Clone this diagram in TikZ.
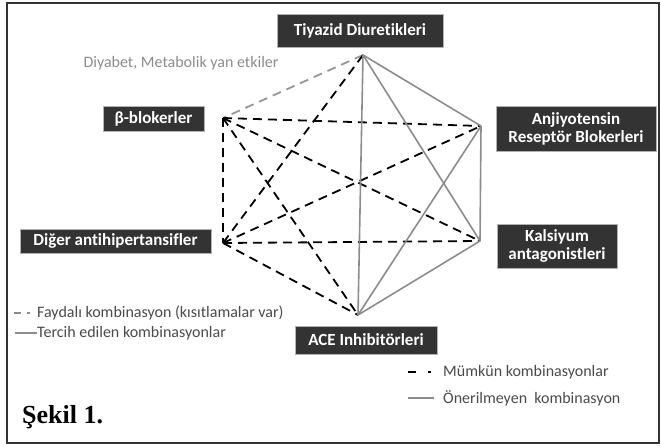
\documentclass[tikz,border=0pt]{standalone}
\usepackage{fontspec}
\setmainfont{Carlito}[Ligatures = NoCommon]
\newfontfamily\sekilfont{Liberation Serif}
\usepackage{xcolor}
\usepackage{tikz}
\usetikzlibrary{calc}

\definecolor{kutu}{HTML}{333333}
\definecolor{acikgri}{HTML}{8C8C8C}
\definecolor{yazigri}{HTML}{4A4A4A}

\begin{document}
\begin{tikzpicture}[x = 1pt, y = -1pt,
		ilac/.style = {fill = kutu, draw = gray!60, text = white, font = \bfseries\fontsize{17}{18}\selectfont, align = center, inner sep = 0pt},
		mumkun/.style = {black, line width = 1.8pt, dash pattern = on 9pt off 6pt},
		faydali/.style = {acikgri!90, line width = 1.8pt, dash pattern = on 9pt off 6pt},
		onerilmeyen/.style = {acikgri, line width = 1.6pt},
		aciklama/.style = {text = yazigri, font = \fontsize{16}{18}\selectfont, anchor = west, inner sep = 0pt}]
		\def\xMIN{0};
		\def\xMAX{661};
		\def\yMIN{0};
		\def\yMAX{447};

		\useasboundingbox (\xMIN,\yMIN) rectangle (\xMAX,\yMAX);
		\draw [kutu, line width = 1.5pt] (7,3) rectangle (659,443);

		\coordinate (T) at (363,55);
		\coordinate (B) at (223,118);
		\coordinate (A) at (481,126);
		\coordinate (D) at (223,243);
		\coordinate (K) at (480,241);
		\coordinate (C) at (358,315);

		\node [ilac, minimum width = 166pt, minimum height = 33pt] (tiyazid) at (360,30.5) {Tiyazid Diuretikleri};
		\node [ilac, minimum width = 101pt, minimum height = 25pt] (beta) at (153.5,118.5) {β-blokerler};
		\node [ilac, minimum width = 191pt, minimum height = 24pt] (diger) at (115.5,241) {Diğer antihipertansifler};
		\node [ilac, minimum width = 160pt, minimum height = 45pt] (anjiyo) at (576,128.5) {Anjiyotensin\\Reseptör Blokerleri};
		\node [ilac, minimum width = 120pt, minimum height = 44pt] (kalsiyum) at (557,246) {Kalsiyum\\antagonistleri};
		\node [ilac, minimum width = 142pt, minimum height = 28pt] (ace) at (366,340) {ACE Inhibitörleri};

		\node [text = acikgri, font = \fontsize{16}{18}\selectfont, inner sep = 0pt] (diyabet) at (181,63) {Diyabet, Metabolik yan etkiler};

		\draw [faydali] (T) -- (B);

		\draw [mumkun] (B) -- (A);
		\draw [mumkun] (B) -- (K);
		\draw [mumkun] (B) -- (C);
		\draw [mumkun] (B) -- (D);
		\draw [mumkun] (D) -- (A);
		\draw [mumkun] (D) -- (K);
		\draw [mumkun] (D) -- (C);
		\draw [mumkun] (T) -- (D);

		\draw [onerilmeyen] (T) -- (C);
		\draw [onerilmeyen] (T) -- (K);
		\draw [onerilmeyen] (T) -- (A);
		\draw [onerilmeyen] (A) -- (K);
		\draw [onerilmeyen] (A) -- (C);
		\draw [onerilmeyen] (K) -- (C);

		\coordinate (f1) at (14,313);
		\coordinate (f2) at (21,313);
		\coordinate (f3) at (27,313);
		\coordinate (f4) at (30,313);
		\draw [acikgri, line width = 1.8pt] (f1) -- (f2);
		\draw [acikgri, line width = 1.8pt] (f3) -- (f4);
		\node [aciklama] (faydaliyazi) at (37,313) {Faydalı kombinasyon (kısıtlamalar var)};

		\coordinate (t1) at (15,333);
		\draw [acikgri, line width = 2pt] (t1) -- (faydaliyazi.west |- t1);
		\node [aciklama] (tercihyazi) at (37,333) {Tercih edilen kombinasyonlar};

		\coordinate (m1) at (408,372);
		\coordinate (m2) at (416,372);
		\coordinate (m3) at (428,372);
		\coordinate (m4) at (431,372);
		\draw [black, line width = 1.8pt] (m1) -- (m2);
		\draw [black, line width = 1.8pt] (m3) -- (m4);
		\node [aciklama] (mumkunyazi) at (443,372) {Mümkün kombinasyonlar};

		\coordinate (o1) at (408,398);
		\coordinate (o2) at (434,398);
		\draw [acikgri, line width = 2pt] (o1) -- (o2);
		\node [aciklama] (oneriyazi) at (443,398) {Önerilmeyen~ kombinasyon};

		\node [anchor = west, inner sep = 0pt, font = \sekilfont\bfseries\fontsize{26}{28}\selectfont] (sekil) at (22,417) {Şekil 1.};
	\end{tikzpicture}
\end{document}
